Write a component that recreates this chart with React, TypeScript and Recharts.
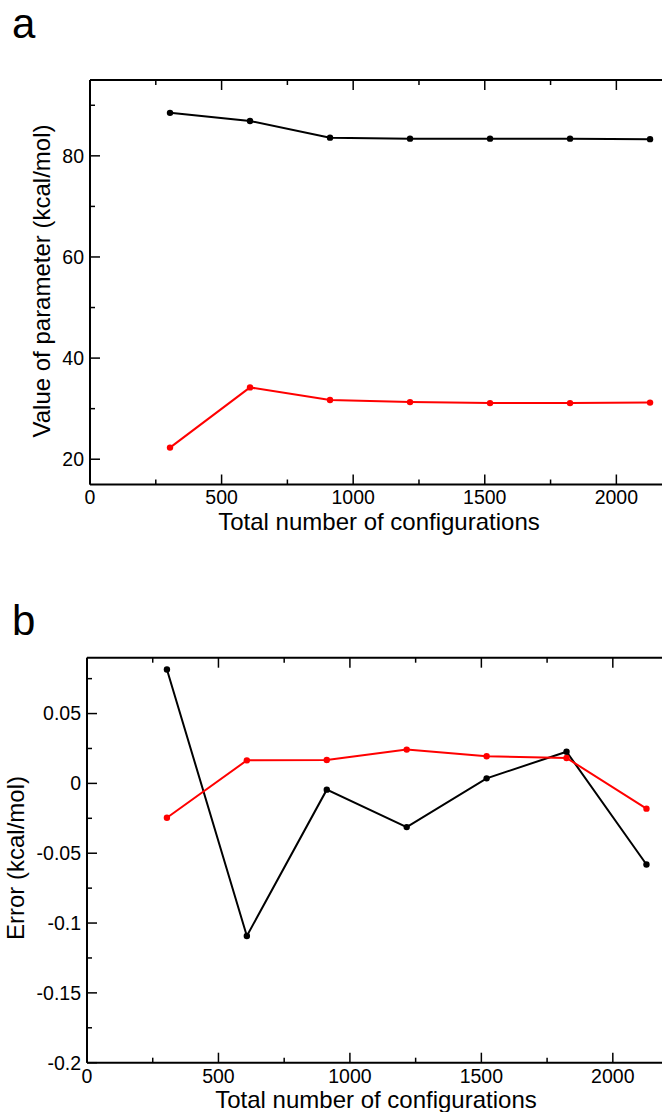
import React from 'react';
import { LineChart, Line, XAxis, YAxis } from 'recharts';

// x positions: total number of configurations
const configs = [304, 608, 912, 1216, 1520, 1824, 2128];

// panel a: value of parameter (kcal/mol)
const paramBlack = [88.5, 86.9, 83.6, 83.4, 83.4, 83.4, 83.3];
const paramRed = [22.3, 34.2, 31.7, 31.3, 31.1, 31.1, 31.2];

// panel b: error (kcal/mol)
const errBlack = [0.0816, -0.1093, -0.0045, -0.0313, 0.0036, 0.0227, -0.0581];
const errRed = [-0.0246, 0.0165, 0.0168, 0.0242, 0.0194, 0.0182, -0.0181];

const xTicks = [0, 500, 1000, 1500, 2000];
const xMinor = [250, 750, 1250, 1750];
const paramTicks = [20, 40, 60, 80];
const paramMinor = [30, 50, 70, 90];
const errTicks = [-0.2, -0.15, -0.1, -0.05, 0, 0.05];
const errMinor = [-0.175, -0.125, -0.075, -0.025, 0.025, 0.075];

const FONT = '"Liberation Sans", Arial, Helvetica, sans-serif';
const INK = '#000';
const MAJOR = 10;
const MINOR = 5;
const TICK_FONT = 19.5;

type Side = 'bottom' | 'top' | 'left' | 'right';

// tick lines point into the plot; labels only on bottom/left majors
function makeTick(side: Side, majors: number[], labels: boolean) {
  return (props: any) => {
    const { x, y, payload } = props;
    const isMajor = majors.includes(payload.value);
    const len = isMajor ? MAJOR : MINOR;
    let line;
    if (side === 'bottom') line = { x1: x, x2: x, y1: y, y2: y - len };
    else if (side === 'top') line = { x1: x, x2: x, y1: y, y2: y + len };
    else if (side === 'left') line = { x1: x, x2: x + len, y1: y, y2: y };
    else line = { x1: x, x2: x - len, y1: y, y2: y };
    return (
      <g>
        <line {...line} stroke={INK} strokeWidth={1.5} />
        {labels && isMajor && side === 'bottom' && (
          <text x={x} y={y + 6} dy="0.71em" textAnchor="middle" fill={INK} fontSize={TICK_FONT} fontFamily={FONT}>
            {payload.value}
          </text>
        )}
        {labels && isMajor && side === 'left' && (
          <text x={x - 6} y={y} dy="0.355em" textAnchor="end" fill={INK} fontSize={TICK_FONT} fontFamily={FONT}>
            {payload.value}
          </text>
        )}
      </g>
    );
  };
}

interface PanelProps {
  black: number[];
  red: number[];
  yDomain: [number, number];
  yTicks: number[];
  yMinor: number[];
  margin: { top: number; left: number; right: number; bottom: number };
}

function Panel({ black, red, yDomain, yTicks, yMinor, margin }: PanelProps) {
  const data = configs.map((n, i) => ({ n, black: black[i], red: red[i] }));
  const axisLine = { stroke: INK, strokeWidth: 2 };
  const allX = [...xTicks, ...xMinor].sort((a, b) => a - b);
  const allY = [...yTicks, ...yMinor].sort((a, b) => a - b);
  // every axis is 1px thick, so take it off the margins
  const m = { top: margin.top - 1, bottom: margin.bottom - 1, left: margin.left - 1, right: margin.right - 1 };

  return (
    <LineChart width={680} height={540} data={data} margin={m}>
      <XAxis xAxisId="x" dataKey="n" type="number" domain={[0, 2200]} ticks={allX} interval={0}
        height={1} tickSize={0} tickMargin={0} axisLine={axisLine} tickLine={false}
        tick={makeTick('bottom', xTicks, true)} />
      <XAxis xAxisId="xt" orientation="top" dataKey="n" type="number" domain={[0, 2200]} ticks={allX} interval={0}
        height={1} tickSize={0} tickMargin={0} axisLine={axisLine} tickLine={false}
        tick={makeTick('top', xTicks, false)} />
      <YAxis yAxisId="y" type="number" domain={yDomain} ticks={allY} interval={0}
        width={1} tickSize={0} tickMargin={0} axisLine={axisLine} tickLine={false}
        tick={makeTick('left', yTicks, true)} />
      <YAxis yAxisId="yr" orientation="right" type="number" domain={yDomain} ticks={allY} interval={0}
        width={1} tickSize={0} tickMargin={0} axisLine={axisLine} tickLine={false}
        tick={makeTick('right', yTicks, false)} />

      <Line xAxisId="x" yAxisId="y" type="linear" dataKey="black" stroke="#000" strokeWidth={2}
        dot={{ r: 3.2, fill: '#000', stroke: 'none' }} isAnimationActive={false} />
      <Line xAxisId="x" yAxisId="y" type="linear" dataKey="red" stroke="#ff0000" strokeWidth={2}
        dot={{ r: 3.2, fill: '#ff0000', stroke: 'none' }} isAnimationActive={false} />
    </LineChart>
  );
}

const abs = (top: number, left: number): React.CSSProperties => ({ position: 'absolute', top, left });

const xTitle: React.CSSProperties = {
  position: 'absolute', width: 500, marginLeft: -250, textAlign: 'center',
  fontSize: 24, lineHeight: '18px', whiteSpace: 'nowrap', color: INK,
};

const yTitle = (cx: number, cy: number): React.CSSProperties => ({
  position: 'absolute', left: cx - 250, top: cy - 12, width: 500, textAlign: 'center',
  fontSize: 24, lineHeight: '24px', whiteSpace: 'nowrap', color: INK,
  transform: 'rotate(-90deg)', transformOrigin: '50% 50%',
});

const panelLetter: React.CSSProperties = {
  position: 'absolute', left: 12, fontSize: 42, lineHeight: '48px', color: INK,
};

export default function App() {
  return (
    <div style={{
      position: 'absolute', top: 0, left: 0, width: 662, height: 1112,
      overflow: 'hidden', background: '#fff', fontFamily: FONT,
    }}>
      <div style={abs(0, 0)}>
        <Panel black={paramBlack} red={paramRed} yDomain={[15, 95]} yTicks={paramTicks} yMinor={paramMinor}
          margin={{ top: 80, left: 90, right: 11, bottom: 55.5 }} />
      </div>
      <div style={abs(580, 0)}>
        <Panel black={errBlack} red={errRed} yDomain={[-0.2, 0.09]} yTicks={errTicks} yMinor={errMinor}
          margin={{ top: 77.7, left: 87, right: 14.6, bottom: 57.3 }} />
      </div>

      <div style={{ ...panelLetter, top: 0 }}>a</div>
      <div style={{ ...panelLetter, top: 597 }}>b</div>

      <div style={{ ...xTitle, left: 379, top: 512.7 }}>Total number of configurations</div>
      <div style={{ ...xTitle, left: 376, top: 1091 }}>Total number of configurations</div>

      <div style={yTitle(42, 281)}>Value of parameter (kcal/mol)</div>
      <div style={yTitle(16, 858)}>Error (kcal/mol)</div>
    </div>
  );
}
